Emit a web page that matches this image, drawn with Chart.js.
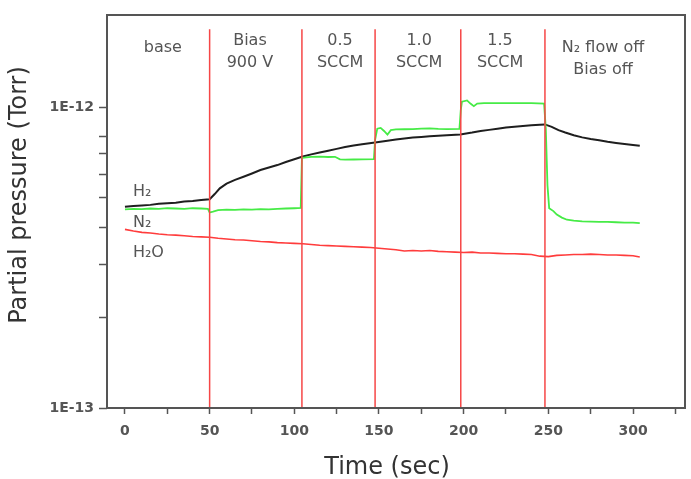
<!DOCTYPE html>
<html>
<head>
<meta charset="utf-8">
<script src="https://cdn.jsdelivr.net/npm/chart.js@4/dist/chart.umd.min.js"></script>
<style>
html,body{margin:0;padding:0;background:#fff;}
#wrap{width:691px;height:479px;position:relative;}
</style>
</head>
<body>
<div id="wrap"><canvas id="c" width="691" height="479"></canvas></div>
<script>
// ---- data (pressures in units of 1e-13 Torr) ----
const h2Time = [0,5,10,15,20,25,30,35,40,45,50,53,56,60,65,70,75,80,85,90,95,100,104.5,110,115,120,125,130,135,140,147.7,155,160,165,170,175,180,185,190,198,205,210,215,220,225,230,235,240,245,248,252,256,260,265,270,275,280,285,290,295,300,304];
const h2Values = [4.67,4.70,4.72,4.74,4.78,4.80,4.82,4.86,4.88,4.92,4.95,5.15,5.38,5.58,5.74,5.88,6.03,6.19,6.31,6.43,6.58,6.72,6.85,6.98,7.08,7.18,7.28,7.38,7.47,7.54,7.65,7.75,7.82,7.88,7.94,7.98,8.02,8.05,8.08,8.13,8.25,8.35,8.42,8.50,8.57,8.63,8.67,8.72,8.76,8.78,8.62,8.40,8.25,8.08,7.95,7.85,7.78,7.69,7.62,7.56,7.50,7.45];

const n2Time = [0,5,10,15,20,25,30,35,40,45,49,50,52,55,60,65,70,75,80,85,90,95,100,103.8,104.5,110,115,120,124,127,130,135,140,147,147.7,149,151,153,155,157,160,165,170,175,180,185,190,197.5,198.3,199,202,204,206,208,212,220,230,240,247.5,248.5,249.5,250.5,253,255,258,261,265,270,275,280,285,290,295,300,304];
const n2Values = [4.58,4.60,4.59,4.61,4.60,4.62,4.61,4.60,4.62,4.61,4.60,4.47,4.50,4.55,4.57,4.56,4.58,4.57,4.59,4.58,4.60,4.61,4.62,4.63,6.80,6.85,6.86,6.84,6.85,6.72,6.70,6.71,6.72,6.73,7.80,8.50,8.55,8.35,8.12,8.40,8.45,8.46,8.47,8.50,8.52,8.48,8.47,8.48,9.80,10.45,10.55,10.30,10.10,10.30,10.34,10.33,10.34,10.33,10.30,8.50,5.50,4.62,4.52,4.40,4.30,4.23,4.20,4.18,4.17,4.16,4.16,4.15,4.14,4.14,4.12];

const h2oTime = [0,5,10,15,20,25,30,35,40,45,50,55,60,65,70,75,80,85,90,95,100,105,110,115,120,125,130,135,140,145,150,155,160,165,170,175,180,185,190,195,200,205,210,215,220,225,230,235,240,245,250,255,260,265,270,275,280,285,290,295,300,304];
const h2oValues = [3.93,3.88,3.84,3.82,3.79,3.77,3.76,3.74,3.72,3.71,3.70,3.67,3.65,3.63,3.62,3.60,3.58,3.57,3.55,3.54,3.53,3.52,3.50,3.48,3.47,3.46,3.45,3.44,3.43,3.42,3.40,3.38,3.36,3.33,3.34,3.33,3.34,3.32,3.31,3.30,3.29,3.30,3.28,3.28,3.27,3.26,3.26,3.25,3.24,3.20,3.19,3.22,3.23,3.24,3.24,3.25,3.24,3.23,3.23,3.22,3.21,3.18];

const unit = 1e-13;
const phaseBoundaries = [50, 104.5, 147.7, 198.3, 248];
const boundaryTop = 1.82e-12;
const phaseLabels = [["base"], ["Bias", "900 V"], ["0.5", "SCCM"], ["1.0", "SCCM"], ["1.5", "SCCM"], ["N\u2082 flow off", "Bias off"]];
const phaseLabelX = [22.4, 73.8, 127, 173.7, 221.5, 282.3];
const seriesNames = ["H\u2082", "N\u2082", "H\u2082O"];
const xTickValues = [0,25,50,75,100,125,150,175,200,225,250,275,300,325];
const xTickLabels = ["0","","50","","100","","150","","200","","250","","300",""];
const yTickValues = [1e-13,2e-13,3e-13,4e-13,5e-13,6e-13,7e-13,8e-13,1e-12];
const yTickLabels = ["1E-13","","","","","","","","1E-12"];

// ---- build datasets ----
const toPts = (t, v) => t.map((x, i) => ({x: x, y: v[i] * unit}));
const datasets = [];
phaseBoundaries.forEach(b => {
  datasets.push({data: [{x: b, y: 1e-13}, {x: b, y: boundaryTop}], borderColor: 'rgb(246,70,70)', borderWidth: 1.5, pointRadius: 0});
});
datasets.push({label: seriesNames[2], data: toPts(h2oTime, h2oValues), borderColor: 'rgb(255,60,60)', borderWidth: 1.6, pointRadius: 0});
datasets.push({label: seriesNames[1], data: toPts(n2Time, n2Values), borderColor: 'rgb(70,235,70)', borderWidth: 1.8, pointRadius: 0});
datasets.push({label: seriesNames[0], data: toPts(h2Time, h2Values), borderColor: 'rgb(30,30,30)', borderWidth: 2, pointRadius: 0});

const FONT = "'DejaVu Sans', sans-serif";

const decor = {
  id: 'decor',
  afterDraw(chart) {
    const ctx = chart.ctx, a = chart.chartArea;
    const xs = chart.scales.x;
    ctx.save();
    // frame
    ctx.strokeStyle = '#555';
    ctx.lineWidth = 2;
    ctx.strokeRect(a.left, a.top, a.right - a.left, a.bottom - a.top);
    // phase labels
    ctx.fillStyle = '#555';
    ctx.font = '16px ' + FONT;
    ctx.textAlign = 'center';
    ctx.textBaseline = 'alphabetic';
    phaseLabels.forEach((lines, i) => {
      const px = xs.getPixelForValue(phaseLabelX[i]);
      let ys;
      if (lines.length === 1) ys = [52];
      else if (i === 5) ys = [52, 74];
      else ys = [45, 67];
      lines.forEach((t, j) => ctx.fillText(t, px, ys[j]));
    });
    // series labels
    ctx.textAlign = 'left';
    const sx = xs.getPixelForValue(4.7);
    ctx.fillText(seriesNames[0], sx, 196);
    ctx.fillText(seriesNames[1], sx, 227);
    ctx.fillText(seriesNames[2], sx, 257);
    // axis titles
    ctx.fillStyle = '#333';
    ctx.font = '24px ' + FONT;
    ctx.textAlign = 'center';
    ctx.fillText('Time (sec)', 387, 474);
    ctx.translate(26, 195);
    ctx.rotate(-Math.PI / 2);
    ctx.fillText('Partial pressure (Torr)', 0, 0);
    ctx.restore();
  }
};

new Chart(document.getElementById('c'), {
  type: 'line',
  data: {datasets: datasets},
  plugins: [decor],
  options: {
    responsive: false,
    animation: false,
    layout: {padding: {top: 15, right: 6, left: 0, bottom: 0}},
    plugins: {legend: {display: false}, tooltip: {enabled: false}},
    elements: {line: {tension: 0}},
    scales: {
      x: {
        type: 'linear',
        min: -10.6,
        max: 330.7,
        afterBuildTicks: s => { s.ticks = xTickValues.map(v => ({value: v})); },
        afterFit: s => { s.height = 71; },
        border: {display: false},
        grid: {drawOnChartArea: false, drawTicks: true, tickLength: 6, tickColor: '#555', tickWidth: 1.5},
        ticks: {
          autoSkip: false, maxRotation: 0, padding: 9,
          color: '#555', font: {family: FONT, size: 14, weight: 'bold'},
          callback: (v, i) => xTickLabels[i]
        }
      },
      y: {
        type: 'logarithmic',
        min: 1e-13,
        max: 2.03e-12,
        afterBuildTicks: s => { s.ticks = yTickValues.map(v => ({value: v})); },
        afterFit: s => { s.width = 107; },
        border: {display: false},
        grid: {drawOnChartArea: false, drawTicks: true, tickLength: 8, tickColor: '#555', tickWidth: 1.5},
        ticks: {
          autoSkip: false, padding: 5,
          color: '#555', font: {family: FONT, size: 14, weight: 'bold'},
          callback: (v, i) => yTickLabels[i]
        }
      }
    }
  }
});
</script>
</body>
</html>
